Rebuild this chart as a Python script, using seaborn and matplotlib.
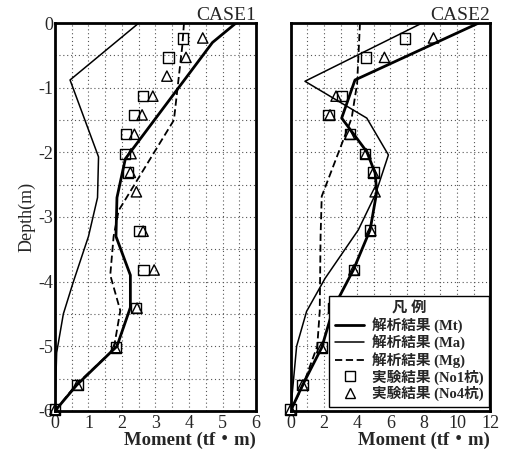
import numpy as np
import pandas as pd
import matplotlib
matplotlib.use("Agg")
import matplotlib.pyplot as plt
from matplotlib.lines import Line2D
import seaborn as sns

sns.set_theme(style="white")
plt.rcParams['font.family'] = ['Liberation Serif', 'Noto Sans CJK JP']
plt.rcParams['axes.unicode_minus'] = False

# ---- CASE1 (moment in tf*m, depth in m) ----
c1_mt_x = [5.4, 4.7, 2.1, 1.85, 1.82, 2.25, 2.25, 1.85, 0.65, 0.0]
c1_mt_d = [0.0, -0.3, -2.1, -2.7, -3.3, -3.9, -4.4, -5.0, -5.6, -6.0]
c1_ma_x = [2.5, 0.45, 1.3, 1.27, 1.0, 0.55, 0.25, 0.05, 0.0]
c1_ma_d = [0.0, -0.88, -2.07, -2.7, -3.3, -4.0, -4.5, -5.1, -6.0]
c1_mg_x = [3.85, 3.8, 3.55, 1.9, 1.75, 1.65, 1.95, 1.75, 0.62, 0.0]
c1_mg_d = [0.0, -0.35, -1.5, -2.9, -3.3, -3.9, -4.45, -5.05, -5.6, -6.0]
c1_no1_x = [3.82, 3.39, 2.63, 2.35, 2.13, 2.1, 2.17, 2.52, 2.64, 2.42, 1.83, 0.67, 0.0]
c1_no1_d = [-0.24, -0.53, -1.13, -1.42, -1.72, -2.02, -2.31, -3.22, -3.82, -4.41, -5.02, -5.6, -5.98]
c1_no4_x = [4.41, 3.91, 3.34, 2.92, 2.6, 2.37, 2.27, 2.25, 2.43, 2.63, 2.96, 2.45, 1.8, 0.67, 0.0]
c1_no4_d = [-0.23, -0.53, -0.82, -1.13, -1.42, -1.72, -2.02, -2.31, -2.61, -3.22, -3.82, -4.41, -5.02, -5.6, -5.98]

# ---- CASE2 ----
c2_mt_x = [11.3, 3.87, 3.07, 4.58, 5.08, 5.18, 4.78, 3.77, 2.57, 1.87, 0.72, 0.0]
c2_mt_d = [0.0, -0.88, -1.47, -1.99, -2.32, -2.61, -3.2, -3.82, -4.41, -5.02, -5.6, -6.0]
c2_ma_x = [7.9, 0.86, 4.58, 5.88, 5.1, 4.07, 2.07, 0.96, 0.36, 0.0]
c2_ma_d = [0.0, -0.9, -1.47, -2.04, -2.65, -3.2, -3.95, -4.46, -5.0, -6.0]
c2_mg_x = [4.17, 4.0, 3.67, 1.87, 1.8, 1.75, 1.6, 0.75, 0.0]
c2_mg_d = [0.0, -0.93, -1.47, -2.68, -3.3, -4.46, -5.0, -5.6, -6.0]
c2_no1_x = [6.88, 4.53, 3.07, 2.27, 3.57, 4.48, 4.98, 4.78, 3.8, 2.57, 1.87, 0.72, 0.0]
c2_no1_d = [-0.24, -0.53, -1.13, -1.42, -1.72, -2.02, -2.31, -3.21, -3.82, -4.41, -5.02, -5.6, -5.98]
c2_no4_x = [8.59, 5.64, 2.73, 2.37, 3.55, 4.53, 4.98, 5.08, 4.82, 3.8, 2.57, 1.87, 0.72, 0.0]
c2_no4_d = [-0.23, -0.53, -1.13, -1.42, -1.72, -2.02, -2.31, -2.61, -3.21, -3.82, -4.41, -5.02, -5.6, -5.98]

labels = ['解析結果 (Mt)', '解析結果 (Ma)', '解析結果 (Mg)', '実験結果 (No1杭)', '実験結果 (No4杭)']


def draw_case(ax, mt, ma, mg, no1, no4):
    line_styles = [(mt, 2.0, '-'), (ma, 1.1, '-'), (mg, 1.3, (0, (4, 2)))]
    for (xs, ds), lw, ls in line_styles:
        df = pd.DataFrame({'m': xs, 'd': ds})
        sns.lineplot(data=df, x='m', y='d', sort=False, estimator=None,
                     color='black', lw=lw, ls=ls, ax=ax)
    for (xs, ds), mk in [(no1, 's'), (no4, '^')]:
        df = pd.DataFrame({'m': xs, 'd': ds})
        ax.scatter(df['m'], df['d'], marker=mk, s=55, facecolors='none',
                   edgecolors='black', linewidths=1.0, zorder=5, clip_on=False)


fig = plt.figure(figsize=(5.09, 4.53), dpi=100)
ax1 = fig.add_axes([0.108, 0.093, 0.395, 0.856])
ax2 = fig.add_axes([0.571, 0.093, 0.392, 0.856])

draw_case(ax1, (c1_mt_x, c1_mt_d), (c1_ma_x, c1_ma_d), (c1_mg_x, c1_mg_d),
          (c1_no1_x, c1_no1_d), (c1_no4_x, c1_no4_d))
draw_case(ax2, (c2_mt_x, c2_mt_d), (c2_ma_x, c2_ma_d), (c2_mg_x, c2_mg_d),
          (c2_no1_x, c2_no1_d), (c2_no4_x, c2_no4_d))

for ax, xmax, step, title in [(ax1, 6, 1, 'CASE1'), (ax2, 12, 2, 'CASE2')]:
    ax.set_xlim(0, xmax)
    ax.set_ylim(-6, 0)
    ax.set_xticks(np.arange(0, xmax + 0.1, step))
    ax.set_xticks(np.arange(0, xmax + 0.1, step / 2), minor=True)
    ax.set_yticks(np.arange(-6, 0.1, 1))
    ax.set_yticks(np.arange(-6, 0.1, 0.5), minor=True)
    ax.grid(which='both', ls=(0, (1, 2.5)), color='#555555', lw=0.8)
    ax.tick_params(which='both', length=0, labelsize=13)
    ax.tick_params(axis='x', pad=3)
    ax.tick_params(axis='y', pad=1)
    for s in ax.spines.values():
        s.set_color('black')
        s.set_linewidth(2.0)
    ax.set_title(title, loc='right', fontsize=14, pad=2)
    ax.set_xlabel('Moment (tf・m)', fontsize=13.5, fontweight='bold', labelpad=0,
                  loc='right')
    ax.set_ylabel('')

ax1.set_yticklabels([str(v) for v in range(-6, 1)])
ax2.set_yticklabels([])
ax1.set_ylabel('Depth(m)', fontsize=13, labelpad=2)

# legend
handles = [Line2D([], [], color='black', lw=2.0),
           Line2D([], [], color='black', lw=1.1),
           Line2D([], [], color='black', lw=1.3, ls=(0, (4, 2))),
           Line2D([], [], color='black', marker='s', ls='', mfc='none', ms=7),
           Line2D([], [], color='black', marker='^', ls='', mfc='none', ms=7)]
leg = ax2.legend(handles, labels, title='凡 例', loc='lower right',
                 bbox_to_anchor=(0.995, 0.01), fontsize=10.5, title_fontsize=11,
                 frameon=True, fancybox=False, framealpha=1, edgecolor='black',
                 handlelength=2.0, handletextpad=0.5, labelspacing=0.1,
                 borderpad=0.4, borderaxespad=0)
leg.get_frame().set_linewidth(1.0)
leg.get_title().set_fontweight('bold')
for t in leg.get_texts():
    t.set_fontweight('bold')
leg.set_zorder(10)

fig.savefig('out.png', dpi=100)
